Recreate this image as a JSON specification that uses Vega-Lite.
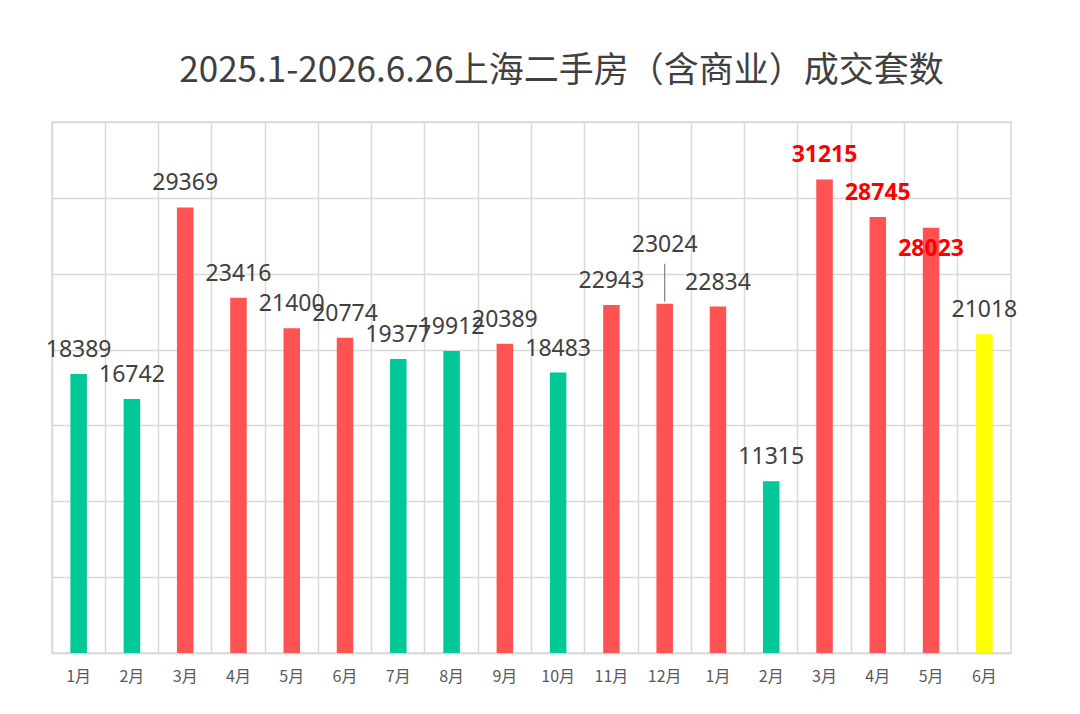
{
  "$schema": "https://vega.github.io/schema/vega-lite/v6.json",
  "width": 959,
  "height": 531,
  "autosize": "none",
  "padding": {"left": 52, "top": 122, "right": 69, "bottom": 61},
  "background": "white",
  "title": {
    "text": "2025.1-2026.6.26上海二手房（含商业）成交套数",
    "fontSize": 35,
    "font": "Noto Sans CJK SC",
    "fontWeight": "normal",
    "color": "#404040",
    "anchor": "middle",
    "dx": 30,
    "offset": 33
  },
  "data": {
    "values": [
      {"month": "2025-1月", "count": 18389, "group": "green", "mark": "normal"},
      {"month": "2025-2月", "count": 16742, "group": "green", "mark": "normal"},
      {"month": "2025-3月", "count": 29369, "group": "red", "mark": "normal"},
      {"month": "2025-4月", "count": 23416, "group": "red", "mark": "normal"},
      {"month": "2025-5月", "count": 21400, "group": "red", "mark": "normal"},
      {"month": "2025-6月", "count": 20774, "group": "red", "mark": "normal"},
      {"month": "2025-7月", "count": 19377, "group": "green", "mark": "normal"},
      {"month": "2025-8月", "count": 19912, "group": "green", "mark": "normal"},
      {"month": "2025-9月", "count": 20389, "group": "red", "mark": "normal"},
      {"month": "2025-10月", "count": 18483, "group": "green", "mark": "normal"},
      {"month": "2025-11月", "count": 22943, "group": "red", "mark": "normal"},
      {"month": "2025-12月", "count": 23024, "group": "red", "mark": "raised"},
      {"month": "2026-1月", "count": 22834, "group": "red", "mark": "normal"},
      {"month": "2026-2月", "count": 11315, "group": "green", "mark": "normal"},
      {"month": "2026-3月", "count": 31215, "group": "red", "mark": "high"},
      {"month": "2026-4月", "count": 28745, "group": "red", "mark": "high"},
      {"month": "2026-5月", "count": 28023, "group": "red", "mark": "high-low"},
      {"month": "2026-6月", "count": 21018, "group": "yellow", "mark": "normal"}
    ]
  },
  "encoding": {
    "x": {
      "field": "month",
      "type": "nominal",
      "sort": null,
      "scale": {
        "domain": ["2025-1月", "2025-2月", "2025-3月", "2025-4月", "2025-5月", "2025-6月", "2025-7月", "2025-8月", "2025-9月", "2025-10月", "2025-11月", "2025-12月", "2026-1月", "2026-2月", "2026-3月", "2026-4月", "2026-5月", "2026-6月"],
        "paddingInner": 0,
        "paddingOuter": 0
      },
      "title": null
    },
    "y": {
      "field": "count",
      "type": "quantitative",
      "scale": {"domain": [0, 35000], "nice": false},
      "title": null
    },
    "text": {"field": "count", "type": "quantitative", "format": "d"}
  },
  "layer": [
    {
      "mark": {"type": "bar", "width": {"band": 0.31}},
      "encoding": {
        "x": {
          "field": "month",
          "type": "nominal",
          "sort": null,
          "axis": {
            "orient": "top",
            "bandPosition": 0,
            "grid": true,
            "gridColor": "#d9d9d9",
            "gridWidth": 1.5,
            "labels": false,
            "ticks": false,
            "domain": false
          }
        },
        "y": {
          "field": "count",
          "type": "quantitative",
          "axis": {
            "values": [0, 5000, 10000, 15000, 20000, 25000, 30000, 35000],
            "grid": true,
            "gridColor": "#d9d9d9",
            "gridWidth": 1.5,
            "labels": false,
            "ticks": false,
            "domain": false
          }
        },
        "color": {
          "field": "group",
          "type": "nominal",
          "scale": {"domain": ["green", "red", "yellow"], "range": ["#00C896", "#FF5252", "#FFFF00"]},
          "legend": null
        }
      }
    },
    {
      "mark": {"type": "text", "baseline": "alphabetic", "dy": -17, "fontSize": 23, "font": "Noto Sans", "color": "#404040"},
      "transform": [{"filter": "datum.mark == 'normal'"}],
      "encoding": {
        "x": {
          "field": "month",
          "type": "nominal",
          "sort": null,
          "axis": {
            "orient": "bottom",
            "grid": false,
            "labelExpr": "split(datum.label, '-')[1]",
            "labelAngle": 0,
            "labelFontSize": 16,
            "labelFont": "Noto Sans CJK SC",
            "labelColor": "#595959",
            "labelPadding": 15,
            "ticks": false,
            "domain": true,
            "domainColor": "#d9d9d9",
            "domainWidth": 1.5
          }
        }
      }
    },
    {
      "transform": [{"filter": "datum.mark == 'raised'"}],
      "mark": {"type": "rule", "color": "#808080", "strokeWidth": 1.2, "yOffset": -2, "y2Offset": -40},
      "encoding": {
        "x": {"field": "month", "type": "nominal", "sort": null, "axis": null},
        "y2": {"field": "count"}
      }
    },
    {
      "transform": [{"filter": "datum.mark == 'raised'"}],
      "mark": {"type": "text", "baseline": "alphabetic", "dy": -52, "fontSize": 23, "font": "Noto Sans", "color": "#404040"},
      "encoding": {
        "x": {"field": "month", "type": "nominal", "sort": null, "axis": null}
      }
    },
    {
      "transform": [{"filter": "datum.mark == 'high'"}],
      "mark": {"type": "text", "baseline": "alphabetic", "dy": -17, "fontSize": 23, "font": "Noto Sans", "fontWeight": "bold", "color": "#FF0000"},
      "encoding": {
        "x": {"field": "month", "type": "nominal", "sort": null, "axis": null}
      }
    },
    {
      "transform": [{"filter": "datum.mark == 'high-low'"}],
      "mark": {"type": "text", "baseline": "alphabetic", "dy": 28, "fontSize": 23, "font": "Noto Sans", "fontWeight": "bold", "color": "#FF0000"},
      "encoding": {
        "x": {"field": "month", "type": "nominal", "sort": null, "axis": null}
      }
    }
  ],
  "resolve": {"axis": {"x": "independent"}},
  "config": {
    "view": {"stroke": "#d9d9d9", "strokeWidth": 1.5}
  }
}
